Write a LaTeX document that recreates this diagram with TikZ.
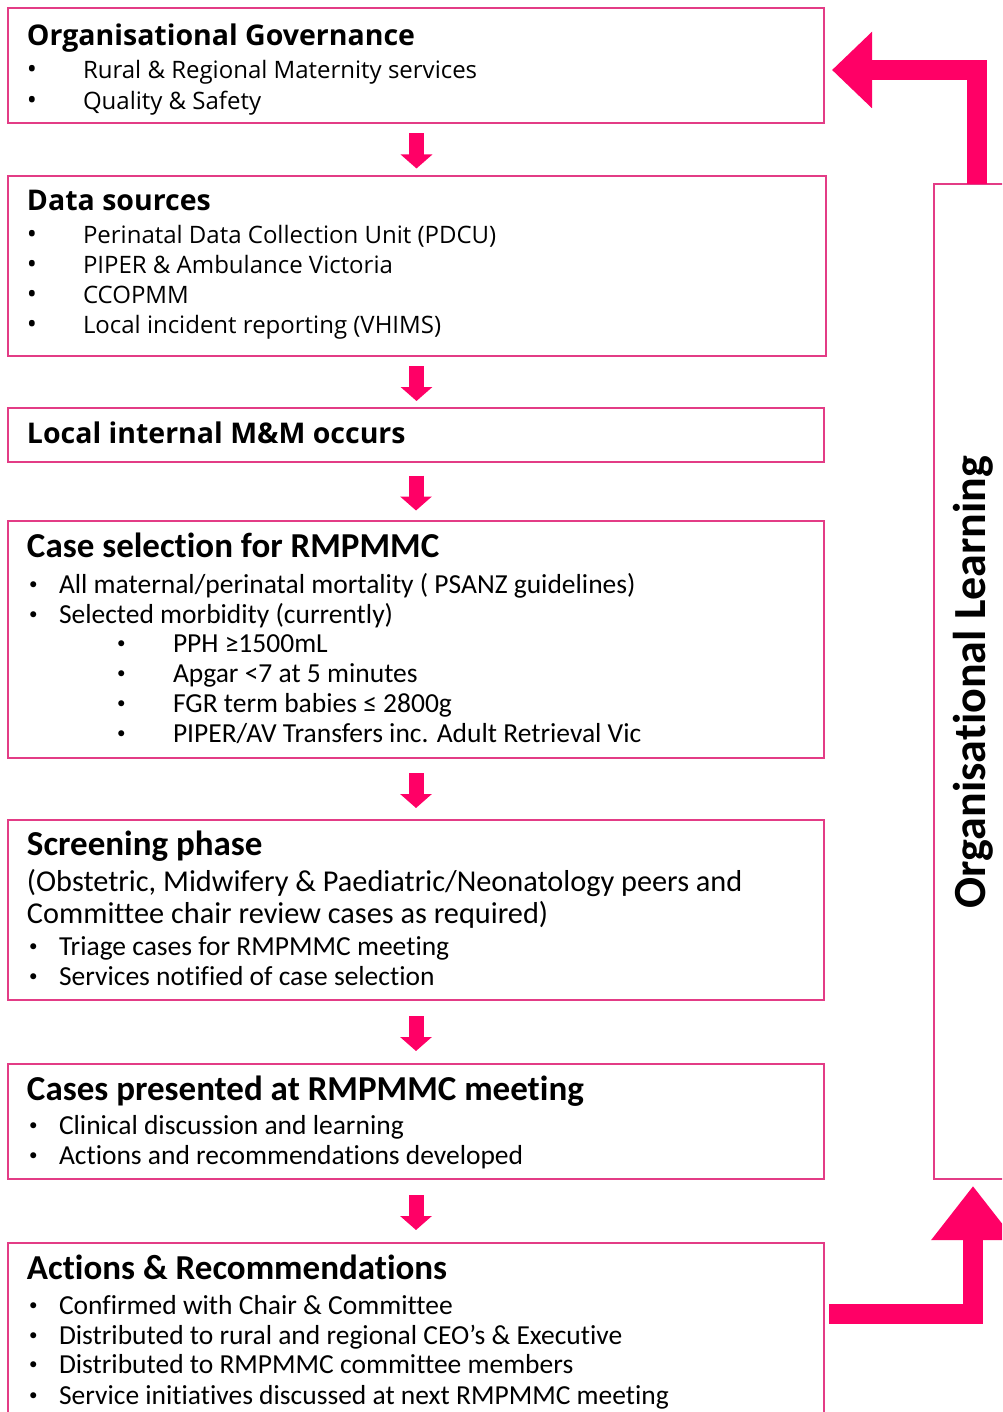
\documentclass[tikz,border=0pt]{standalone}
\usepackage{fontspec}
\setmainfont[Ligatures=NoCommon]{Carlito}
\newfontfamily\osans{Open Sans}
\usetikzlibrary{arrows.meta,calc}
\definecolor{arrowpink}{HTML}{FF0066}
\definecolor{boxpink}{HTML}{E33C86}
\begin{document}
\begin{tikzpicture}[x=1pt,y=-1pt,
  box/.style={draw=boxpink, line width=1.6pt, anchor=north west, inner sep=0pt, outer sep=0pt},
  tx/.style={anchor=base west, inner sep=0pt, outer sep=0pt, text=black},
  ttlA/.style={tx, font=\osans\bfseries\fontsize{28.5}{34}\selectfont},
  bodyA/.style={tx, font=\osans\fontsize{24}{29}\selectfont},
  dotA/.style={tx, font=\osans\fontsize{27}{29}\selectfont},
  ttlB/.style={tx, font=\bfseries\fontsize{35}{42}\selectfont},
  bodyB/.style={tx, font=\fontsize{27.5}{33}\selectfont},
  dotB/.style={tx, font=\fontsize{17}{20}\selectfont, yshift=3.5pt},
  paraB/.style={tx, font=\fontsize{30.3}{36}\selectfont},
  downarrow/.style={draw=arrowpink, line width=15pt, -{Triangle[width=31pt,length=14pt]}},
  bendarrow/.style={draw=arrowpink, line width=20pt, line join=miter},
  sidetext/.style={inner sep=0pt, outer sep=0pt, anchor=base, rotate=90, font=\bfseries\fontsize{46}{55}\selectfont}
]
\useasboundingbox (0,0) rectangle (1002,1412);
\fill[white] (0,0) rectangle (1002,1412);
\clip (0,0) rectangle (1002,1412);

% boxes
\node[box, minimum width=816pt, minimum height=115pt] (b1) at (8,8) {};
\node[box, minimum width=818pt, minimum height=180pt] (b2) at (8,176) {};
\node[box, minimum width=816pt, minimum height=54pt]  (b3) at (8,408) {};
\node[box, minimum width=816pt, minimum height=237pt] (b4) at (8,521) {};
\node[box, minimum width=816pt, minimum height=180pt] (b5) at (8,820) {};
\node[box, minimum width=816pt, minimum height=115pt] (b6) at (8,1064) {};
\node[box, minimum width=816pt, minimum height=200pt] (b7) at (8,1243) {};
\node[box, minimum width=86pt, minimum height=995pt] (ol) at (934,184) {};

% box 1
\node[ttlA] (t1) at (27,46) {Organisational Governance};
\node[dotA] (t1d1) at (27,79) {•};
\node[bodyA] (t1l1) at (83,79) {Rural \& Regional Maternity services};
\node[dotA] (t1d2) at (27,110) {•};
\node[bodyA] (t1l2) at (83,110) {Quality \& Safety};

% box 2
\node[ttlA] (t2) at (27,211) {Data sources};
\node[dotA] (t2d1) at (27,244) {•};
\node[bodyA] (t2l1) at (83,244) {Perinatal Data Collection Unit (PDCU)};
\node[dotA] (t2d2) at (27,274) {•};
\node[bodyA] (t2l2) at (83,274) {PIPER \& Ambulance Victoria};
\node[dotA] (t2d3) at (27,304) {•};
\node[bodyA] (t2l3) at (83,304) {CCOPMM};
\node[dotA] (t2d4) at (27,334) {•};
\node[bodyA] (t2l4) at (83,334) {Local incident reporting (VHIMS)};

% box 3
\node[ttlA] (t3) at (27,443) {Local internal M\&M occurs};

% box 4
\node[ttlB] (t4) at (27,557) {Case selection for RMPMMC};
\node[dotB] (t4d1) at (29,593) {•};
\node[bodyB] (t4l1) at (59,593) {All maternal/perinatal mortality ( PSANZ guidelines)};
\node[dotB] (t4d2) at (29,623) {•};
\node[bodyB] (t4l2) at (59,623) {Selected morbidity (currently)};
\node[dotB] (t4d3) at (117,652) {•};
\node[bodyB] (t4l3) at (173,652) {PPH ≥1500mL};
\node[dotB] (t4d4) at (117,682) {•};
\node[bodyB] (t4l4) at (173,682) {Apgar <7 at 5 minutes};
\node[dotB] (t4d5) at (117,712) {•};
\node[bodyB] (t4l5) at (173,712) {FGR term babies ≤ 2800g};
\node[dotB] (t4d6) at (117,742) {•};
\node[bodyB] (t4l6) at (173,742) {PIPER/AV Transfers inc. Adult Retrieval Vic};

% box 5
\node[ttlB] (t5) at (27,855) {Screening phase};
\node[paraB] (t5p1) at (27,891) {(Obstetric, Midwifery \& Paediatric/Neonatology peers and};
\node[paraB] (t5p2) at (27,923) {Committee chair review cases as required)};
\node[dotB] (t5d1) at (29,955) {•};
\node[bodyB] (t5l1) at (59,955) {Triage cases for RMPMMC meeting};
\node[dotB] (t5d2) at (29,985) {•};
\node[bodyB] (t5l2) at (59,985) {Services notified of case selection};

% box 6
\node[ttlB] (t6) at (27,1100) {Cases presented at RMPMMC meeting};
\node[dotB] (t6d1) at (29,1134) {•};
\node[bodyB] (t6l1) at (59,1134) {Clinical discussion and learning};
\node[dotB] (t6d2) at (29,1164) {•};
\node[bodyB] (t6l2) at (59,1164) {Actions and recommendations developed};

% box 7
\node[ttlB] (t7) at (27,1279) {Actions \& Recommendations};
\node[dotB] (t7d1) at (29,1314) {•};
\node[bodyB] (t7l1) at (59,1314) {Confirmed with Chair \& Committee};
\node[dotB] (t7d2) at (29,1344) {•};
\node[bodyB] (t7l2) at (59,1344) {Distributed to rural and regional CEO’s \& Executive};
\node[dotB] (t7d3) at (29,1373) {•};
\node[bodyB] (t7l3) at (59,1373) {Distributed to RMPMMC committee members};
\node[dotB] (t7d4) at (29,1404) {•};
\node[bodyB] (t7l4) at (59,1404) {Service initiatives discussed at next RMPMMC meeting};

% side label
\node[sidetext] (olt) at (985,682) {Organisational Learning};

% down arrows
\foreach \a/\b in {b1/b2,b2/b3,b3/b4,b4/b5,b5/b6,b6/b7}{
  \draw[downarrow] ($(\a.south)!0.5!(\b.north)+(0,-16)$) -- ($(\a.south)!0.5!(\b.north)+(0,19)$);
}

% feedback arrows
\draw[bendarrow, -{Triangle[width=74pt,length=40pt]}] (ol.north) |- ([xshift=8pt,yshift=-4.5pt]b1.east);
\draw[bendarrow, -{Triangle[width=80pt,length=54pt]}] ([xshift=5pt,yshift=-70.5pt]b7.north east) -| ([xshift=-4pt,yshift=-7pt]ol.south);
\end{tikzpicture}
\end{document}
